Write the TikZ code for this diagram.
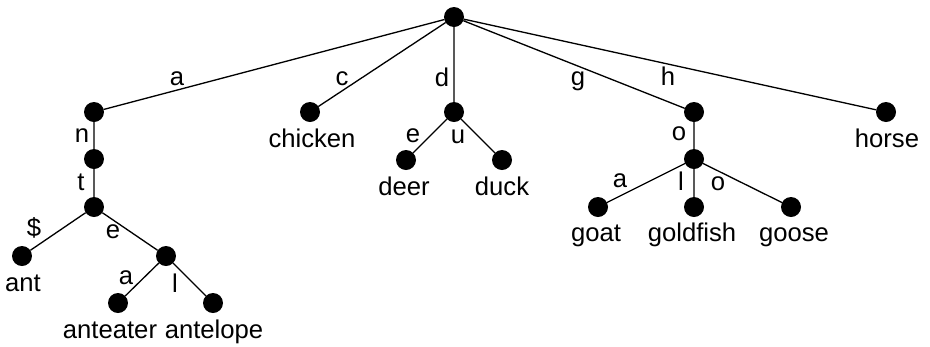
\documentclass[tikz,border=0pt]{standalone}
\usepackage{fontspec}
\setmainfont{Liberation Sans}

\begin{document}
\begin{tikzpicture}[
  x=0.02cm,
  y=-0.02cm,
  line cap=round,
  line join=round,
  every node/.style={font=\fontsize{14.6}{17}\selectfont},
  trienode/.style={circle,fill,inner sep=0pt,minimum size=0.4cm},
  word/.style={anchor=base,inner sep=0pt},
  letter/.style={anchor=base,inner sep=0pt},
  branch/.style={line width=0.75pt}
]
\useasboundingbox (0,0) rectangle (930,346);

% ------------------------------------------------------------------
% Root
% ------------------------------------------------------------------
\node[trienode] (root) at (454,17) {};

% ------------------------------------------------------------------
% a-subtree
% ------------------------------------------------------------------
\node[trienode] (a)     at (94,112) {};
\node[trienode] (an)    at (94,159) {};
\node[trienode] (ant)   at (94,207) {};
\node[trienode] (antd)  at (22,256) {};
\node[trienode] (ante)  at (166,256) {};
\node[trienode] (antea) at (118,303) {};
\node[trienode] (antel) at (213,303) {};

\draw[branch] (root)--(a) (a)--(an) (an)--(ant)
  (ant)--(antd) (ant)--(ante) (ante)--(antea) (ante)--(antel);

\node[letter] (la)    at (177,85)  {a};
\node[letter] (ln)    at (82,142)  {n};
\node[letter] (lt)    at (81,190)  {t};
\node[letter] (ld)    at (34,236)  {\$};
\node[letter] (le)    at (113,238) {e};
\node[letter] (lea)   at (126,284) {a};
\node[letter] (lel)   at (175,292) {l};

\node[word] (w-ant)      at (23,291)  {ant};
\node[word] (w-anteater) at (110,338) {anteater};
\node[word] (w-antelope) at (214,338) {antelope};

% ------------------------------------------------------------------
% c- and d-subtrees
% ------------------------------------------------------------------
\node[trienode] (c)  at (310,112) {};
\node[trienode] (d)  at (454,112) {};
\node[trienode] (de) at (406,160) {};
\node[trienode] (du) at (502,160) {};

\draw[branch] (root)--(c) (root)--(d) (d)--(de) (d)--(du);

\node[letter] (lc)  at (342,85)  {c};
\node[letter] (ldd) at (442,86)  {d};
\node[letter] (lde) at (413,142) {e};
\node[letter] (ldu) at (458,143) {u};

\node[word] (w-chicken) at (312,147) {chicken};
\node[word] (w-deer)    at (404,195) {deer};
\node[word] (w-duck)    at (502,195) {duck};

% ------------------------------------------------------------------
% g- and h-subtrees
% ------------------------------------------------------------------
\node[trienode] (g)   at (694,112) {};
\node[trienode] (go)  at (694,159) {};
\node[trienode] (goa) at (598,207) {};
\node[trienode] (gol) at (694,207) {};
\node[trienode] (goo) at (791,207) {};
\node[trienode] (h)   at (886,112) {};

\draw[branch] (root)--(g) (g)--(go) (go)--(goa) (go)--(gol) (go)--(goo)
  (root)--(h);

\node[letter] (lg)   at (578,85)  {g};
\node[letter] (lh)   at (668,85)  {h};
\node[letter] (lgo)  at (679,140) {o};
\node[letter] (lgoa) at (620,187) {a};
\node[letter] (lgol) at (681,190) {l};
\node[letter] (lgoo) at (718,190) {o};

\node[word] (w-goat)     at (596,241) {goat};
\node[word] (w-goldfish) at (692,241) {goldfish};
\node[word] (w-goose)    at (794,241) {goose};
\node[word] (w-horse)    at (887,147) {horse};

\end{tikzpicture}
\end{document}
